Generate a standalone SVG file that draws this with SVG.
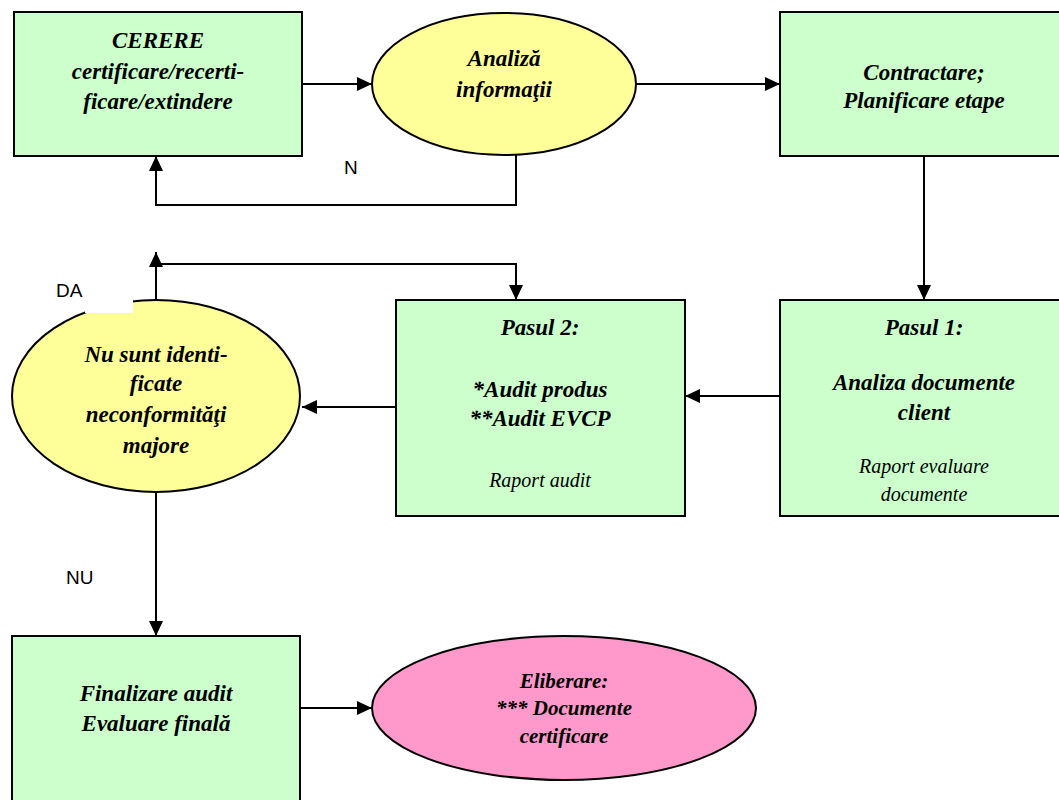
<svg xmlns="http://www.w3.org/2000/svg" width="1059" height="800" viewBox="0 0 1059 800">
<style>
.box{fill:#CCFFCC;stroke:#000;stroke-width:2}
.yel{fill:#FFFF99;stroke:#000;stroke-width:2}
.pink{fill:#FF99CC;stroke:#000;stroke-width:2}
.c{fill:none;stroke:#000;stroke-width:2}
text.t{font-family:"Times New Roman","Liberation Serif",serif;font-style:italic;font-weight:700;font-size:23px;text-anchor:middle;fill:#000}
text.s{font-family:"Times New Roman","Liberation Serif",serif;font-style:italic;font-weight:400;font-size:20px;text-anchor:middle;fill:#000}
text.e{font-size:21px}
text.lbl{font-family:"Liberation Sans",Arial,sans-serif;font-size:19px;fill:#000}
</style>
<defs>
<marker id="arr" markerUnits="userSpaceOnUse" markerWidth="16" markerHeight="14" refX="15" refY="7" orient="auto">
<path d="M0,0 L15,7 L0,14 Z" fill="#000"/>
</marker>
</defs>
<rect width="1059" height="800" fill="#fff"/>
<g id="cerere">
<rect class="box" x="14" y="12" width="288" height="144"/>
<text class="t" x="158" y="48">CERERE</text>
<text class="t" x="158" y="79">certificare/recerti-</text>
<text class="t" x="158" y="109">ficare/extindere</text>
</g>
<g id="analiza">
<ellipse class="yel" cx="504" cy="84" rx="132" ry="71"/>
<text class="t" x="504" y="66">Analiză</text>
<text class="t" x="504" y="97">informaţii</text>
</g>
<g id="contractare">
<rect class="box" x="780" y="12" width="290" height="144"/>
<text class="t" x="924" y="80">Contractare;</text>
<text class="t" x="924" y="108">Planificare etape</text>
</g>
<g id="pasul1">
<rect class="box" x="780" y="300" width="290" height="216"/>
<text class="t" x="924" y="335">Pasul 1:</text>
<text class="t" x="924" y="390">Analiza documente</text>
<text class="t" x="924" y="420">client</text>
<text class="s" x="924" y="473">Raport evaluare</text>
<text class="s" x="924" y="501">documente</text>
</g>
<g id="pasul2">
<rect class="box" x="396" y="300" width="289" height="216"/>
<text class="t" x="540" y="335">Pasul 2:</text>
<text class="t" x="540" y="397">*Audit produs</text>
<text class="t" x="540" y="426">**Audit EVCP</text>
<text class="s" x="540" y="487">Raport audit</text>
</g>
<g id="decizie">
<ellipse class="yel" cx="156" cy="396" rx="144" ry="96"/>
<rect x="85" y="299" width="48" height="14" fill="#fff"/>
<text class="t" x="156" y="362">Nu sunt identi-</text>
<text class="t" x="156" y="391">ficate</text>
<text class="t" x="156" y="422">neconformităţi</text>
<text class="t" x="156" y="453">majore</text>
</g>
<g id="finalizare">
<rect class="box" x="12" y="636" width="288" height="180"/>
<text class="t" x="156" y="701">Finalizare audit</text>
<text class="t" x="156" y="731">Evaluare finală</text>
</g>
<g id="eliberare">
<ellipse class="pink" cx="564" cy="708" rx="192" ry="72"/>
<text class="t e" x="564" y="688">Eliberare:</text>
<text class="t e" x="564" y="715">*** Documente</text>
<text class="t e" x="564" y="743">certificare</text>
</g>
<g id="connectors">
<line class="c" x1="302" y1="84" x2="372" y2="84" marker-end="url(#arr)"/>
<line class="c" x1="636" y1="84" x2="780" y2="84" marker-end="url(#arr)"/>
<polyline class="c" points="516,155 516,205 156,205 156,156" marker-end="url(#arr)"/>
<line class="c" x1="924" y1="156" x2="924" y2="300" marker-end="url(#arr)"/>
<line class="c" x1="780" y1="396" x2="685" y2="396" marker-end="url(#arr)"/>
<line class="c" x1="396" y1="407" x2="302" y2="407" marker-end="url(#arr)"/>
<line class="c" x1="156" y1="300" x2="156" y2="252" marker-end="url(#arr)"/>
<polyline class="c" points="156,264 516,264 516,300" marker-end="url(#arr)"/>
<line class="c" x1="156" y1="492" x2="156" y2="636" marker-end="url(#arr)"/>
<line class="c" x1="300" y1="708" x2="372" y2="708" marker-end="url(#arr)"/>
</g>
<g id="labels">
<text class="lbl" x="344" y="174">N</text>
<text class="lbl" x="56" y="297">DA</text>
<text class="lbl" x="66" y="584">NU</text>
</g>
</svg>
